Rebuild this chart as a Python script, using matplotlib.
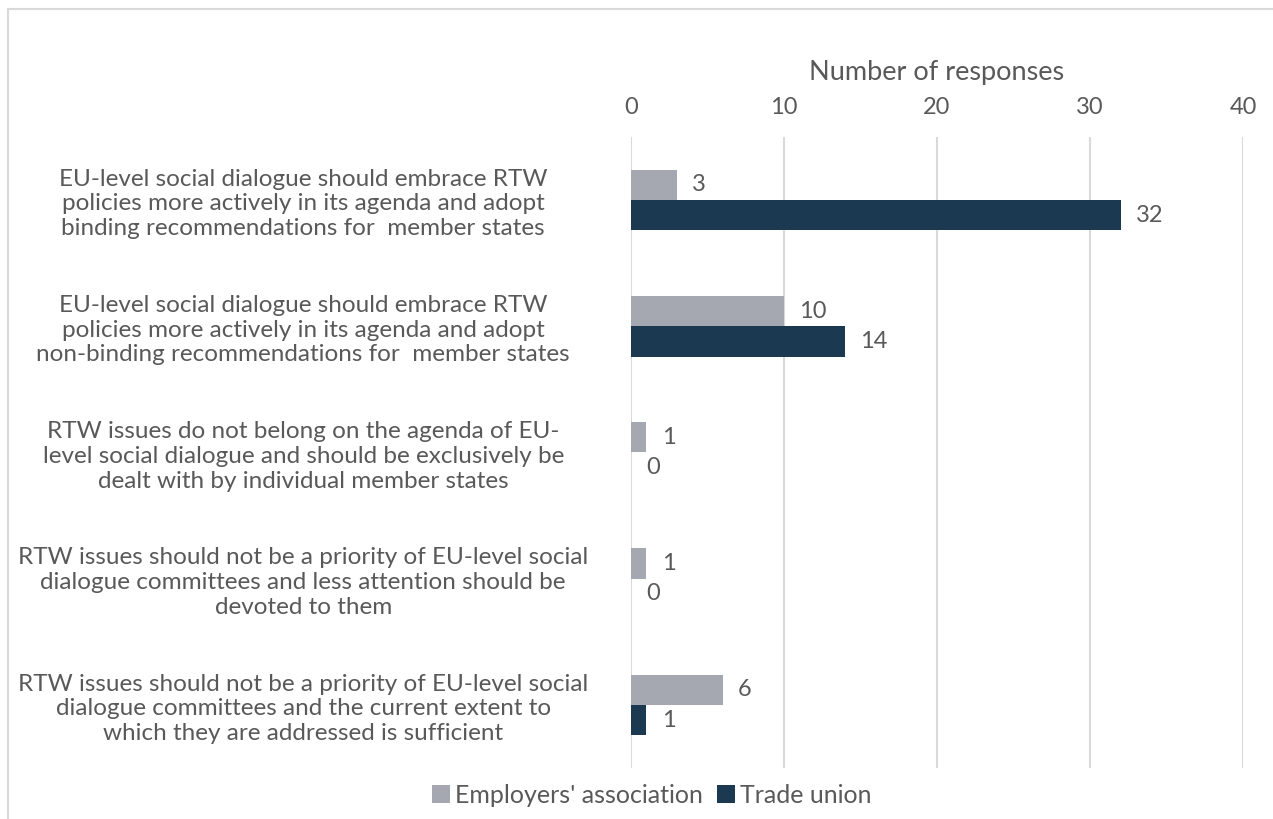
import matplotlib.pyplot as plt
import numpy as np
from matplotlib.lines import Line2D

categories = [
    "EU-level social dialogue should embrace RTW\npolicies more actively in its agenda and adopt\nbinding recommendations for  member states",
    "EU-level social dialogue should embrace RTW\npolicies more actively in its agenda and adopt\nnon-binding recommendations for  member states",
    "RTW issues do not belong on the agenda of EU-\nlevel social dialogue and should be exclusively be\ndealt with by individual member states",
    "RTW issues should not be a priority of EU-level social\ndialogue committees and less attention should be\ndevoted to them",
    "RTW issues should not be a priority of EU-level social\ndialogue committees and the current extent to\nwhich they are addressed is sufficient",
]
employers = [3, 10, 1, 1, 6]
trade_union = [32, 14, 0, 0, 1]
series_names = ["Employers' association", "Trade union"]
xticks = [0, 10, 20, 30, 40]

plt.rcParams["font.family"] = ["Lato", "DejaVu Sans"]
text_color = "#595959"
gray = "#A5A8B0"
navy = "#1B3A52"

fig = plt.figure(figsize=(12.73, 8.19), dpi=100)
ax = fig.add_axes([0.4957, 0.0623, 0.4807, 0.7704])

y = np.arange(len(categories))
h = 0.24
b1 = ax.barh(y - h / 2, employers, h, color=gray, label=series_names[0], zorder=3)
b2 = ax.barh(y + h / 2, trade_union, h, color=navy, label=series_names[1], zorder=3)
ax.bar_label(b1, padding=11, fontsize=17, color=text_color)
ax.bar_label(b2, padding=11, fontsize=17, color=text_color)

ax.set_ylim(len(categories) - 0.5, -0.5)
ax.set_xlim(0, 40)
ax.set_xticks(xticks)
ax.xaxis.tick_top()
ax.xaxis.set_label_position("top")
ax.set_xlabel("Number of responses", fontsize=19.5, color=text_color, labelpad=12)
ax.tick_params(axis="x", length=0, labelsize=17, labelcolor=text_color, pad=14)
ax.grid(axis="x", color="#D9D9D9", linewidth=1.5, zorder=0)
for s in ax.spines.values():
    s.set_visible(False)

ax.set_yticks(y)
ax.set_yticklabels(categories, fontsize=17.5, color=text_color, ha="center",
                   ma="center", linespacing=1.22)
ax.tick_params(axis="y", length=0, pad=236)

leg = fig.legend(handles=[b1, b2], labels=series_names, loc="center",
                 bbox_to_anchor=(0.512, 0.029), ncol=2, frameon=False,
                 fontsize=18, handlelength=0.7, handleheight=0.7,
                 handletextpad=0.2, columnspacing=0.6)
for t in leg.get_texts():
    t.set_color(text_color)

# chart frame (left and top edges only visible)
fig.add_artist(Line2D([0.0063, 0.0063], [0.989, 0.0], transform=fig.transFigure,
                      color="#D9D9D9", linewidth=1.5))
fig.add_artist(Line2D([0.0063, 1.0], [0.989, 0.989], transform=fig.transFigure,
                      color="#D9D9D9", linewidth=1.5))

fig.savefig("out.png", dpi=100)
